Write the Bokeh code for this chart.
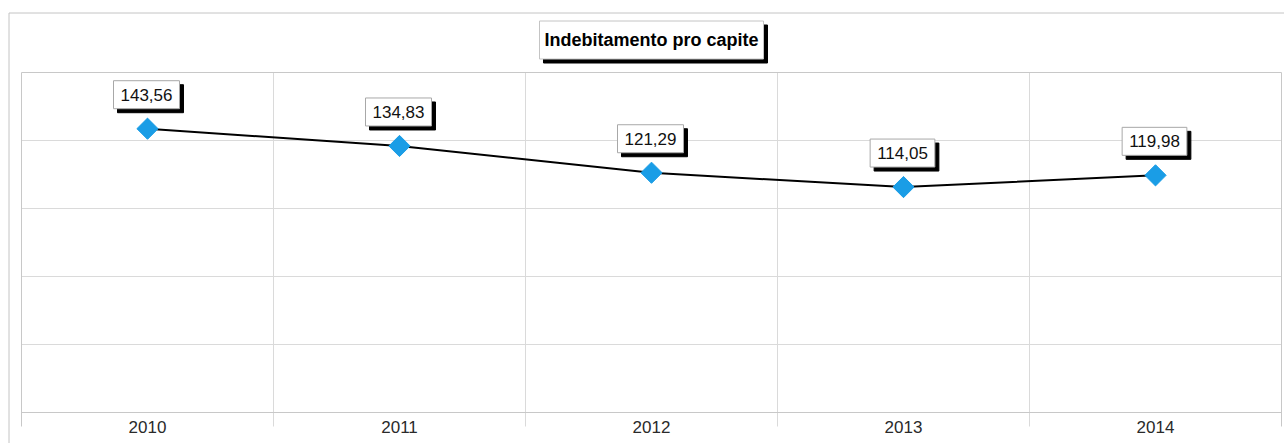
import math
from bokeh.plotting import figure
from bokeh.models import ColumnDataSource, Range1d, Label
from bokeh.core.properties import value
from bokeh.embed import file_html
from bokeh.resources import INLINE

# ---- data ----
years = ["2010", "2011", "2012", "2013", "2014"]
values = [143.56, 134.83, 121.29, 114.05, 119.98]
title_text = "Indebitamento pro capite"

y_max = 172          # top of the value axis
n_grid = 5           # number of horizontal bands

# ---- layout (pixels) ----
W, H = 1284, 443
PX_L, PX_R, PX_T, PX_B = 21, 1281, 72, 412
n = len(years)
sx = (PX_R - PX_L) / n
sy = (PX_B - PX_T) / y_max


def X(px):
    return (px - PX_L) / sx


def Y(py):
    return (PX_B - py) / sy


xs = [i + 0.5 for i in range(n)]
labels = [f"{v:.2f}".replace(".", ",") for v in values]
src = ColumnDataSource(dict(x=xs, y=values, lab=labels))

p = figure(width=W, height=H, output_backend="svg", toolbar_location=None,
           x_range=Range1d(X(0), X(W)), y_range=Range1d(Y(H), Y(0)),
           x_axis_location=None, y_axis_location=None, title=None,
           min_border=0)
p.min_border_left = p.min_border_right = p.min_border_top = p.min_border_bottom = 0
p.background_fill_color = "white"
p.border_fill_color = "white"
p.outline_line_color = None
p.xgrid.visible = False
p.ygrid.visible = False

# outer chart border (left and top visible)
p.segment(x0=[X(8.5), X(8.5)], y0=[Y(12.5), Y(12.5)], x1=[X(8.5), X(W)], y1=[Y(H), Y(12.5)],
          line_color="#c4c4c4", line_width=1)

# horizontal grid lines
grid_vals = [y_max * i / n_grid for i in range(1, n_grid)]
p.segment(x0=[0] * len(grid_vals), x1=[n] * len(grid_vals), y0=grid_vals, y1=grid_vals,
          line_color="#dadada", line_width=1)
# vertical lines at category boundaries (extend below the axis as ticks)
inner = list(range(1, n))
p.segment(x0=inner, x1=inner, y0=[Y(426)] * len(inner), y1=[y_max] * len(inner),
          line_color="#dadada", line_width=1)
edges = [0, n]
p.segment(x0=edges, x1=edges, y0=[Y(426)] * 2, y1=[y_max] * 2,
          line_color="#c8c8c8", line_width=1)
# top and bottom frame lines
p.segment(x0=[0, 0], x1=[n, n], y0=[0, y_max], y1=[0, y_max],
          line_color="#c8c8c8", line_width=1)

# category labels
p.text(x=xs, y=[Y(426)] * n, text=years, text_align="center", text_baseline="middle",
       text_font=value("Liberation Sans"), text_font_size="17px", text_color="#2a2a2a")

# series
p.line("x", "y", source=src, line_color="black", line_width=2)
p.scatter("x", "y", source=src, marker="square", size=15, angle=math.pi / 4,
          fill_color="#1a9de6", line_color="#1a9de6")

# data labels with shadow
pad = dict(left=7, right=7, top=8, bottom=8)
for x, y, lab in zip(xs, values, labels):
    p.add_layout(Label(x=x, y=y, x_offset=3, y_offset=30, text=lab,
                       text_align="center", text_baseline="middle",
                       text_font="Liberation Sans", text_font_size="17px",
                       text_color="black", background_fill_color="black",
                       border_line_color="black", padding=pad))
    p.add_layout(Label(x=x, y=y, x_offset=-1, y_offset=34, text=lab,
                       text_align="center", text_baseline="middle",
                       text_font="Liberation Sans", text_font_size="17px",
                       text_color="#111111", background_fill_color="white",
                       border_line_color="#a8a8a8", padding=pad))

# title box with shadow
tpad = dict(left=5, right=5, top=9, bottom=9)
tx = n / 2
ty = Y(39.5)
p.add_layout(Label(x=tx, y=ty, x_offset=4, y_offset=-4, text=title_text,
                   text_align="center", text_baseline="middle",
                   text_font="Liberation Sans", text_font_size="18px", text_font_style="bold",
                   text_color="black", background_fill_color="black",
                   border_line_color="black", padding=tpad))
p.add_layout(Label(x=tx, y=ty, text=title_text,
                   text_align="center", text_baseline="middle",
                   text_font="Liberation Sans", text_font_size="18px", text_font_style="bold",
                   text_color="black", background_fill_color="white",
                   border_line_color="#c4c4c4", padding=tpad))

open("out.html", "w").write(file_html(p, INLINE))
